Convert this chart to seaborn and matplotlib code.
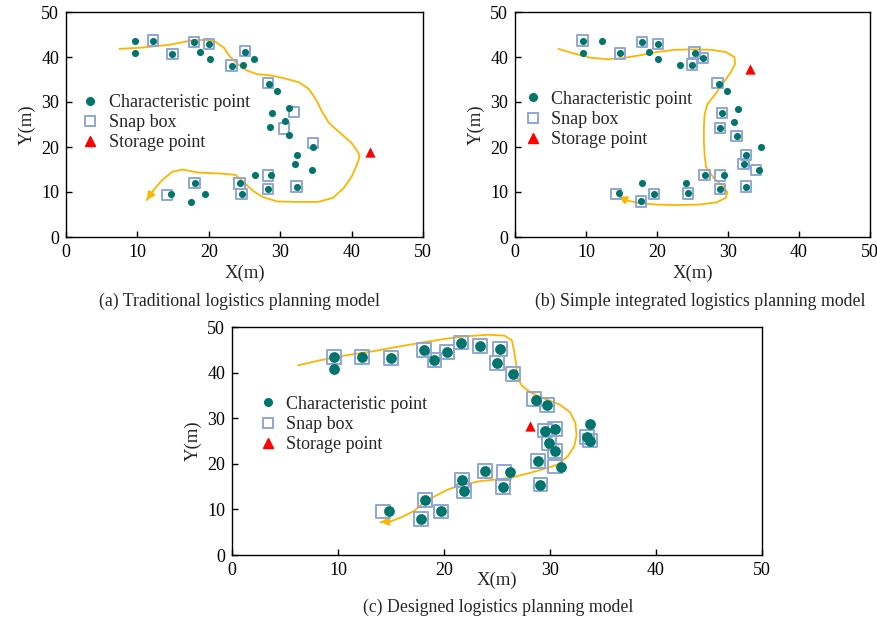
import numpy as np
import pandas as pd
import matplotlib
matplotlib.use("Agg")
import matplotlib.pyplot as plt
import seaborn as sns

# ---------------- data ----------------
# (a) Traditional logistics planning model
a_char_x = [9.7, 9.7, 12.2, 14.9, 17.9, 18.8, 20.0, 20.1, 23.2, 24.8, 25.1, 26.3, 28.5, 29.6,
            31.2, 28.9, 28.6, 30.7, 31.2, 34.6, 32.4, 32.1, 34.5, 26.5, 28.7, 24.3, 18.0,
            24.6, 28.3, 32.4, 14.7, 19.4, 17.5]
a_char_y = [43.5, 40.8, 43.6, 40.7, 43.3, 41.2, 42.9, 39.6, 38.1, 38.3, 41.2, 39.6, 34.0, 32.5,
            28.6, 27.5, 24.4, 25.7, 22.6, 20.1, 18.2, 16.2, 14.8, 13.7, 13.7, 11.9, 12.0,
            9.6, 10.6, 11.1, 9.6, 9.6, 7.7]
a_box_x = [12.2, 14.9, 17.9, 20.0, 23.2, 25.1, 28.3, 31.9, 30.5, 34.6, 28.3, 24.3, 18.0, 24.6,
           28.3, 32.3, 14.1]
a_box_y = [43.7, 40.7, 43.4, 42.9, 38.1, 41.3, 34.2, 27.8, 24.1, 20.9, 13.7, 11.9, 12.0, 9.6,
           10.6, 11.2, 9.4]
a_store_x = [42.6]
a_store_y = [18.9]
a_path_x = [7.5, 10.7, 14.4, 17.7, 19.5, 20.8, 22.1, 22.9, 24.0, 25.2, 26.7, 28.75, 30.5, 32.6,
            34.0, 35.0, 35.8, 36.8, 38.4, 40.0, 40.95, 41.1, 40.7, 40.0, 38.9, 37.4, 35.3,
            32.1, 29.6, 27.5, 26.25, 25.0, 23.75, 21.7, 18.6, 16.3, 14.9, 13.5, 12.3, 11.3]
a_path_y = [41.8, 42.1, 42.7, 43.7, 43.8, 43.5, 42.1, 40.2, 38.5, 37.1, 36.2, 35.9, 35.3, 34.4,
            32.9, 30.6, 28.0, 25.4, 23.1, 20.9, 18.7, 17.7, 15.9, 13.4, 10.9, 8.7, 7.8,
            7.8, 7.9, 8.9, 10.2, 12.0, 13.8, 14.1, 14.3, 15.0, 14.5, 12.7, 10.5, 8.2]

# (b) Simple integrated logistics planning model
b_char_x = [9.6, 9.6, 12.3, 14.8, 17.9, 18.9, 20.1, 20.1, 23.3, 24.9, 25.3, 26.5, 28.7, 29.8,
            31.4, 29.2, 30.9, 28.9, 31.2, 34.6, 32.5, 32.2, 34.4, 26.7, 29.4, 17.9, 24.1,
            28.9, 32.5, 14.7, 19.6, 24.4, 17.7]
b_char_y = [43.5, 40.8, 43.5, 40.8, 43.3, 41.2, 42.9, 39.6, 38.3, 38.3, 40.9, 39.8, 34.0, 32.5,
            28.5, 27.6, 25.6, 24.2, 22.5, 20.1, 18.2, 16.2, 14.9, 13.7, 13.7, 12.0, 12.0,
            10.7, 11.2, 9.7, 9.6, 9.7, 7.9]
b_box_x = [9.5, 14.8, 17.9, 20.1, 24.9, 25.3, 26.5, 28.5, 29.2, 28.9, 31.2, 32.5, 32.2, 33.9,
           26.7, 28.9, 28.9, 32.5, 14.2, 19.6, 24.4, 17.7]
b_box_y = [43.7, 40.8, 43.4, 42.9, 38.3, 41.0, 39.8, 34.2, 27.6, 24.2, 22.5, 18.2, 16.2, 14.9,
           13.8, 13.7, 10.7, 11.2, 9.6, 9.6, 9.7, 7.9]
b_store_x = [33.1]
b_store_y = [37.3]
b_path_x = [6.1, 8.25, 10.6, 13.0, 15.3, 17.65, 20.0, 22.5, 25.0, 27.6, 29.7, 30.9, 31.0, 30.4,
            29.2, 28.2, 27.1, 26.7, 26.6, 26.6, 26.7, 26.9, 28.0, 29.2, 29.9, 29.7, 28.4,
            25.9, 22.5, 20.0, 17.65, 15.8, 14.6]
b_path_y = [41.8, 40.8, 39.85, 39.5, 39.8, 40.4, 41.1, 41.6, 41.7, 41.6, 41.1, 40.0, 38.5, 36.6,
            34.0, 31.7, 29.5, 27.2, 24.25, 21.3, 18.4, 15.6, 13.1, 11.4, 10.0, 8.7, 7.7,
            7.2, 7.1, 7.2, 7.5, 8.1, 9.0]

# (c) Designed logistics planning model
c_char_x = [9.65, 9.65, 12.3, 15.0, 18.1, 19.1, 20.3, 21.6, 23.4, 25.3, 25.0, 26.5, 28.7, 29.7,
            29.5, 30.45, 29.9, 30.5, 28.9, 31.0, 33.8, 33.5, 33.8, 29.1, 26.2, 23.9, 25.6,
            21.7, 21.9, 18.2, 19.7, 17.8, 14.8]
c_char_y = [43.4, 40.8, 43.4, 43.2, 44.9, 42.8, 44.5, 46.6, 45.8, 45.1, 42.2, 39.6, 34.1, 32.8,
            27.3, 27.7, 24.5, 22.8, 20.7, 19.3, 28.7, 25.9, 25.1, 15.45, 18.25, 18.4, 14.9,
            16.5, 14.1, 12.1, 9.55, 7.9, 9.7]
c_box_x = [9.65, 12.3, 15.0, 18.1, 19.1, 20.3, 21.6, 23.4, 25.3, 25.0, 26.5, 28.5, 29.7,
           29.5, 30.45, 29.9, 30.5, 28.9, 30.45, 33.5, 33.8, 29.1, 25.7, 23.9, 25.6,
           21.7, 21.9, 18.2, 19.7, 17.8, 14.25]
c_box_y = [43.4, 43.4, 43.2, 44.9, 42.8, 44.5, 46.6, 45.8, 45.1, 42.2, 39.6, 34.3, 32.8,
           27.3, 27.7, 24.5, 22.8, 20.7, 19.4, 25.9, 25.1, 15.45, 18.25, 18.4, 14.9,
           16.5, 14.1, 12.1, 9.55, 7.9, 9.55]
c_store_x = [28.1]
c_store_y = [28.3]
c_path_x = [6.25, 8.3, 10.5, 13.1, 15.7, 18.2, 20.4, 22.3, 24.2, 25.7, 26.4, 26.6, 26.8, 26.9,
            27.4, 28.2, 29.45, 30.9, 31.9, 32.4, 32.5, 32.3, 31.7, 30.7, 29.45, 28.1, 26.4,
            25.1, 23.4, 21.8, 20.4, 19.3, 18.2, 17.2, 16.1, 15.0, 14.0]
c_path_y = [41.6, 42.7, 43.7, 44.6, 45.7, 46.7, 47.5, 48.0, 48.3, 48.1, 47.1, 44.9, 42.0, 38.9,
            37.0, 35.6, 34.3, 33.0, 31.3, 28.9, 26.2, 23.9, 21.7, 19.8, 18.9, 18.0, 17.0,
            16.6, 16.2, 15.4, 14.4, 13.1, 11.7, 9.7, 8.4, 7.4, 7.2]

ticks = [0, 10, 20, 30, 40, 50]
legend_labels = ["Characteristic point", "Snap box", "Storage point"]
captions = ["(a) Traditional logistics planning model",
            "(b) Simple integrated logistics planning model",
            "(c) Designed logistics planning model"]

# ---------------- style ----------------
sns.set_style("ticks")
plt.rcParams["font.family"] = ["Liberation Serif", "DejaVu Serif"]

TEAL = "#00756E"
BOXC = "#8FA6D6"
ORANGE = "#FFB400"
RED = "#FF0000"

fig = plt.figure(figsize=(8.78, 6.19), dpi=100)
W, H = 878, 619


def add_axes(left, top, right, bottom):
    return fig.add_axes([left / W, (H - bottom) / H, (right - left) / W, (bottom - top) / H])


panels = [
    dict(ax=add_axes(66, 12, 423, 237), cx=a_char_x, cy=a_char_y, bx=a_box_x, by=a_box_y,
         sx=a_store_x, sy=a_store_y, px=a_path_x, py=a_path_y, cs=26, bs=55,
         cap=captions[0], capxy=(240, 301), xlabpad=3, leg=(0.018, 0.675)),
    dict(ax=add_axes(515, 12, 870, 237), cx=b_char_x, cy=b_char_y, bx=b_box_x, by=b_box_y,
         sx=b_store_x, sy=b_store_y, px=b_path_x, py=b_path_y, cs=26, bs=55,
         cap=captions[1], capxy=(700, 301), xlabpad=3, leg=(0.0, 0.69)),
    dict(ax=add_axes(232, 327, 762, 555), cx=c_char_x, cy=c_char_y, bx=c_box_x, by=c_box_y,
         sx=c_store_x, sy=c_store_y, px=c_path_x, py=c_path_y, cs=60, bs=100,
         cap=captions[2], capxy=(498, 607), xlabpad=-5, leg=(0.034, 0.738)),
]

for p in panels:
    ax = p["ax"]
    path = pd.DataFrame({"x": p["px"], "y": p["py"]})
    sns.lineplot(data=path, x="x", y="y", sort=False, estimator=None, color=ORANGE,
                 linewidth=1.3, ax=ax, zorder=2)
    ax.annotate("", xy=(p["px"][-1], p["py"][-1]), xytext=(p["px"][-2], p["py"][-2]),
                arrowprops=dict(arrowstyle="-|>", color=ORANGE, lw=1.3,
                                mutation_scale=12, shrinkA=0, shrinkB=0), zorder=2)
    boxes = pd.DataFrame({"x": p["bx"], "y": p["by"]})
    sns.scatterplot(data=boxes, x="x", y="y", marker="s", s=p["bs"], facecolors="none",
                    edgecolors=BOXC, linewidths=1.4, ax=ax, zorder=3)
    chars = pd.DataFrame({"x": p["cx"], "y": p["cy"]})
    sns.scatterplot(data=chars, x="x", y="y", marker="o", s=p["cs"], color=TEAL,
                    edgecolor=TEAL, linewidth=0, ax=ax, zorder=4)
    store = pd.DataFrame({"x": p["sx"], "y": p["sy"]})
    sns.scatterplot(data=store, x="x", y="y", marker="^", s=55, color=RED, edgecolor=RED,
                    linewidth=0, ax=ax, zorder=4)

    ax.set_xlim(0, 50)
    ax.set_ylim(0, 50)
    ax.set_xticks(ticks)
    ax.set_yticks(ticks)
    ax.tick_params(direction="in", length=4, width=1, labelsize=13, colors="black",
                   top=False, right=False, pad=5)
    for s in ax.spines.values():
        s.set_visible(True)
        s.set_linewidth(1.0)
        s.set_color("black")
    ax.set_xlabel("X(m)", fontsize=13.5, labelpad=p["xlabpad"])
    ax.set_ylabel("Y(m)", fontsize=13.5, labelpad=4)

    handles = [
        plt.Line2D([], [], linestyle="none", marker="o", markersize=5.5, color=TEAL),
        plt.Line2D([], [], linestyle="none", marker="s", markersize=7, markerfacecolor="none",
                   markeredgecolor=BOXC, markeredgewidth=1.4),
        plt.Line2D([], [], linestyle="none", marker="^", markersize=7, color=RED),
    ]
    ax.legend(handles, legend_labels, loc="upper left", bbox_to_anchor=p["leg"],
              frameon=False, fontsize=13, handletextpad=0.5, labelspacing=0.17,
              borderpad=0, handlelength=1.0)

    fig.text(p["capxy"][0] / W, 1 - p["capxy"][1] / H, p["cap"], ha="center", va="center",
             fontsize=12.8)

fig.savefig("out.png", dpi=100)
